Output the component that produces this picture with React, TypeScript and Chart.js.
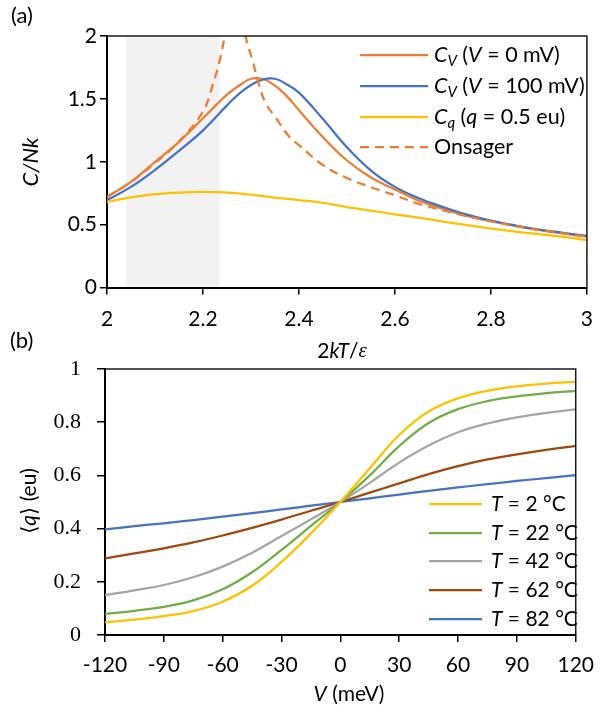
import React, { useEffect, useRef } from "react";
import { Chart, registerables } from "chart.js";

Chart.register(...registerables);

const FONT = "Lato, 'DejaVu Sans', sans-serif";
const SERIF = "'Liberation Serif', 'DejaVu Serif', serif";

// ---------- Panel (a) data ----------
const X_A = [2.0, 2.05, 2.1, 2.15, 2.2, 2.25, 2.275, 2.3, 2.325, 2.35, 2.375, 2.4, 2.45, 2.5, 2.55, 2.6, 2.65, 2.7, 2.75, 2.8, 2.85, 2.9, 2.95, 3.0];
const CV_0 = [0.72, 0.84, 0.998, 1.158, 1.346, 1.534, 1.604, 1.66, 1.658, 1.605, 1.52, 1.41, 1.195, 1.01, 0.875, 0.78, 0.69, 0.625, 0.57, 0.527, 0.49, 0.458, 0.43, 0.404];
const CV_100 = [0.695, 0.8, 0.935, 1.087, 1.25, 1.448, 1.54, 1.61, 1.654, 1.66, 1.615, 1.55, 1.34, 1.115, 0.93, 0.8, 0.71, 0.64, 0.58, 0.533, 0.494, 0.46, 0.435, 0.41];
const C_Q = [0.68, 0.717, 0.742, 0.755, 0.76, 0.755, 0.748, 0.738, 0.727, 0.715, 0.705, 0.695, 0.674, 0.64, 0.611, 0.582, 0.555, 0.524, 0.496, 0.468, 0.445, 0.424, 0.403, 0.378];
const X_ONS = [2.0, 2.05, 2.1, 2.15, 2.2, 2.22, 2.235, 2.245, 2.255, 2.262, 2.269, 2.276, 2.283, 2.289, 2.303, 2.317, 2.331, 2.35, 2.38, 2.4, 2.45, 2.5, 2.55, 2.6, 2.65, 2.7, 2.75, 2.8, 2.85, 2.9, 2.95, 3.0];
const ONSAGER = [0.72, 0.84, 0.99, 1.16, 1.4, 1.608, 1.807, 2.0, 2.3, 2.7, 3.5, 2.7, 2.3, 2.0, 1.81, 1.61, 1.463, 1.36, 1.198, 1.132, 0.973, 0.87, 0.798, 0.733, 0.665, 0.614, 0.566, 0.527, 0.49, 0.458, 0.43, 0.405];
const SHADE_A = [2.04, 2.235];
const XTICKS_A = [2, 2.2, 2.4, 2.6, 2.8, 3];
const YTICKS_A = [0, 0.5, 1, 1.5, 2];

// ---------- Panel (b) data ----------
const V_MEV = [-120, -105, -90, -75, -60, -45, -30, -15, 0, 15, 30, 45, 60, 75, 90, 105, 120];
const Q_T2 = [0.048, 0.058, 0.071, 0.09, 0.125, 0.185, 0.275, 0.382, 0.5, 0.627, 0.752, 0.84, 0.89, 0.918, 0.935, 0.945, 0.952];
const Q_T22 = [0.079, 0.091, 0.106, 0.13, 0.172, 0.236, 0.32, 0.41, 0.5, 0.6, 0.71, 0.797, 0.849, 0.879, 0.897, 0.909, 0.918];
const Q_T42 = [0.15, 0.168, 0.188, 0.217, 0.257, 0.309, 0.372, 0.435, 0.5, 0.572, 0.648, 0.712, 0.762, 0.795, 0.818, 0.835, 0.848];
const Q_T62 = [0.288, 0.307, 0.326, 0.348, 0.374, 0.403, 0.434, 0.467, 0.5, 0.535, 0.57, 0.605, 0.635, 0.66, 0.679, 0.696, 0.711];
const Q_T82 = [0.397, 0.409, 0.42, 0.432, 0.445, 0.458, 0.472, 0.486, 0.5, 0.514, 0.528, 0.542, 0.555, 0.567, 0.579, 0.59, 0.601];
const T_LABELS = ["2", "22", "42", "62", "82"];
const XTICKS_B = [-120, -90, -60, -30, 0, 30, 60, 90, 120];
const YTICKS_B = [0, 0.2, 0.4, 0.6, 0.8, 1];

const ORANGE = "#ED7D31";
const BLUE = "#4472C4";
const YELLOW = "#FFC000";
const GREEN = "#70AD47";
const GREY = "#A5A5A5";
const BROWN = "#9E480E";

const TS = 21; // text size

type Seg = { t: string; i?: boolean; sub?: boolean; f?: string };

function drawRich(ctx: CanvasRenderingContext2D, segs: Seg[], x: number, y: number, size: number, align: "left" | "center") {
  const fontOf = (s: Seg) => `${s.i ? "italic " : ""}${s.sub ? Math.round(size * 0.68) : size}px ${s.f ?? FONT}`;
  let total = 0;
  const widths = segs.map((s) => {
    ctx.font = fontOf(s);
    const w = ctx.measureText(s.t).width;
    total += w;
    return w;
  });
  let cx = align === "center" ? x - total / 2 : x;
  ctx.textBaseline = "middle";
  ctx.textAlign = "left";
  ctx.fillStyle = "#000";
  segs.forEach((s, k) => {
    ctx.font = fontOf(s);
    ctx.fillText(s.t, cx, s.sub ? y + size * 0.3 : y);
    cx += widths[k];
  });
}

function drawFrame(chart: any) {
  const { ctx, chartArea: a } = chart;
  ctx.save();
  ctx.strokeStyle = "#1a1a1a";
  ctx.lineWidth = 1.5;
  ctx.beginPath();
  ctx.moveTo(a.left, a.top);
  ctx.lineTo(a.right, a.top);
  ctx.lineTo(a.right, a.bottom);
  ctx.stroke();
  ctx.restore();
}

function legendLine(ctx: CanvasRenderingContext2D, x0: number, x1: number, y: number, color: string, dash: number[]) {
  ctx.save();
  ctx.strokeStyle = color;
  ctx.lineWidth = 2.25;
  ctx.setLineDash(dash);
  ctx.beginPath();
  ctx.moveTo(x0, y);
  ctx.lineTo(x1, y);
  ctx.stroke();
  ctx.restore();
}

const decorA = {
  id: "decorA",
  beforeDraw(chart: any) {
    const { ctx, chartArea: a, scales } = chart;
    const l = scales.x.getPixelForValue(SHADE_A[0]);
    const r = scales.x.getPixelForValue(SHADE_A[1]);
    ctx.save();
    ctx.fillStyle = "#F2F2F2";
    ctx.fillRect(l, a.top, r - l, a.bottom - a.top);
    ctx.restore();
  },
  afterDraw(chart: any) {
    const { ctx } = chart;
    drawFrame(chart);
    ctx.save();
    const rows: { segs: Seg[]; color: string; dash: number[] }[] = [
      { segs: [{ t: "C", i: true }, { t: "V", i: true, sub: true }, { t: " (" }, { t: "V", i: true }, { t: " = 0 mV)" }], color: ORANGE, dash: [] },
      { segs: [{ t: "C", i: true }, { t: "V", i: true, sub: true }, { t: " (" }, { t: "V", i: true }, { t: " = 100 mV)" }], color: BLUE, dash: [] },
      { segs: [{ t: "C", i: true }, { t: "q", i: true, sub: true }, { t: " (" }, { t: "q", i: true }, { t: " = 0.5 eu)" }], color: YELLOW, dash: [] },
      { segs: [{ t: "Onsager" }], color: ORANGE, dash: [9, 6] },
    ];
    const ys = [55, 86, 117, 147];
    rows.forEach((r, k) => {
      legendLine(ctx, 360, 428, ys[k], r.color, r.dash);
      drawRich(ctx, r.segs, 434, ys[k], TS + 0.5, "left");
    });
    drawRich(ctx, [{ t: "(a)" }], 11, 16, 22, "left");
    drawRich(ctx, [{ t: "2" }, { t: "kT", i: true }, { t: "/" }, { t: "ε", i: true, f: SERIF }], 342, 351, 21, "center");
    ctx.save();
    ctx.translate(31, 162);
    ctx.rotate(-Math.PI / 2);
    drawRich(ctx, [{ t: "C/Nk", i: true }], 0, 0, 22, "center");
    ctx.restore();
    ctx.restore();
  },
};

const decorB = {
  id: "decorB",
  afterDraw(chart: any) {
    const { ctx } = chart;
    drawFrame(chart);
    ctx.save();
    const colors = [YELLOW, GREEN, GREY, BROWN, BLUE];
    const ys = [174, 203, 231, 260, 289];
    T_LABELS.forEach((t, k) => {
      legendLine(ctx, 429, 482, ys[k], colors[k], []);
      drawRich(ctx, [{ t: "T", i: true }, { t: ` = ${t} °C` }], 491, ys[k], TS, "left");
    });
    drawRich(ctx, [{ t: "(b)" }], 10, 11, 22, "left");
    drawRich(ctx, [{ t: "V", i: true }, { t: " (meV)" }], 349, 364, 21, "center");
    ctx.save();
    ctx.translate(29, 171);
    ctx.rotate(-Math.PI / 2);
    drawRich(ctx, [{ t: "⟨" }, { t: "q", i: true }, { t: "⟩ (eu)" }], 0, 0, 21, "center");
    ctx.restore();
    ctx.restore();
  },
};

function pts(xs: number[], ys: number[]) {
  return xs.map((x, i) => ({ x, y: ys[i] }));
}

function line(label: string, data: any[], color: string, dash: number[] = []) {
  return {
    label,
    data,
    borderColor: color,
    backgroundColor: color,
    borderWidth: 2.25,
    borderDash: dash,
    pointRadius: 0,
    fill: false,
    tension: 0.4,
  };
}

function axis(min: number, max: number, ticks: number[], size: number, family: string, tickLen: number, pad: number, fit: (s: any) => void) {
  return {
    type: "linear" as const,
    min,
    max,
    afterBuildTicks: (s: any) => {
      s.ticks = ticks.map((value) => ({ value }));
    },
    afterFit: fit,
    ticks: {
      color: "#000",
      font: { family, size },
      padding: pad,
      maxRotation: 0,
      autoSkip: false,
      callback: (v: any) => String(v),
    },
    grid: { drawOnChartArea: false, drawTicks: true, tickLength: tickLen, color: "#000", lineWidth: 1.5 },
    border: { display: true, color: "#000", width: 2 },
  };
}

export default function App() {
  const refA = useRef<HTMLCanvasElement>(null);
  const refB = useRef<HTMLCanvasElement>(null);

  useEffect(() => {
    const chartA = new Chart(refA.current!, {
      type: "line",
      data: {
        datasets: [
          line("Onsager", pts(X_ONS, ONSAGER), ORANGE, [9, 6]),
          line("Cq", pts(X_A, C_Q), YELLOW),
          line("CV100", pts(X_A, CV_100), BLUE),
          line("CV0", pts(X_A, CV_0), ORANGE),
        ],
      },
      options: {
        responsive: false,
        animation: false,
        maintainAspectRatio: false,
        layout: { padding: { left: 0, right: 17, top: 36, bottom: 0 } },
        plugins: { legend: { display: false }, tooltip: { enabled: false } },
        scales: {
          x: axis(2, 3, XTICKS_A, TS, FONT, 7, 12, (s: any) => { s.height = 77.5; }),
          y: axis(0, 2, YTICKS_A, TS, FONT, 7, 3, (s: any) => { s.width = 107; }),
        },
      } as any,
      plugins: [decorA],
    });
    const chartB = new Chart(refB.current!, {
      type: "line",
      data: {
        datasets: [
          line("T2", pts(V_MEV, Q_T2), YELLOW),
          line("T22", pts(V_MEV, Q_T22), GREEN),
          line("T42", pts(V_MEV, Q_T42), GREY),
          line("T62", pts(V_MEV, Q_T62), BROWN),
          line("T82", pts(V_MEV, Q_T82), BLUE),
        ],
      },
      options: {
        responsive: false,
        animation: false,
        maintainAspectRatio: false,
        layout: { padding: { left: 0, right: 18, top: 39, bottom: 0 } },
        plugins: { legend: { display: false }, tooltip: { enabled: false } },
        scales: {
          x: axis(-120, 120, XTICKS_B, TS, FONT, 7, 11, (s: any) => { s.height = 78; }),
          y: axis(0, 1, YTICKS_B, 22, SERIF, 8, 16, (s: any) => { s.width = 105; }),
        },
      } as any,
      plugins: [decorB],
    });
    return () => {
      chartA.destroy();
      chartB.destroy();
    };
  }, []);

  return (
    <div style={{ position: "absolute", left: 0, top: 0, width: 605, height: 713, background: "#fff" }}>
      <canvas ref={refA} width={605} height={365} style={{ position: "absolute", left: 0, top: 0, width: 605, height: 365 }} />
      <canvas ref={refB} width={605} height={383} style={{ position: "absolute", left: 0, top: 330, width: 605, height: 383 }} />
    </div>
  );
}
